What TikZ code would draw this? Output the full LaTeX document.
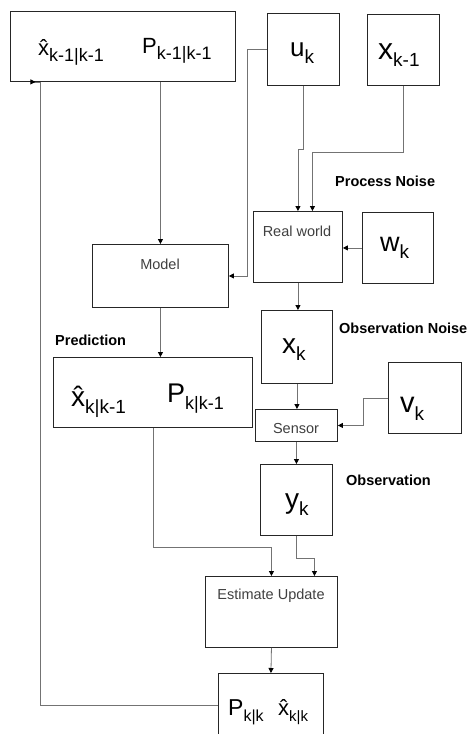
\documentclass[tikz,border=0pt]{standalone}
\usepackage{fontspec}
\setmainfont{Liberation Sans}
\usetikzlibrary{arrows.meta}
\newcommand\fs[1]{\fontsize{#1}{#1}\selectfont}
\newcommand\hatx{x^^^^0302}
\newcommand\sym[5]{{\fs{#1}#2\raisebox{-#5em}{\fs{#3}#4}}}
\begin{document}
\begin{tikzpicture}[x=1pt,y=-1pt,
  box/.style={draw=black!85, line width=0.9pt, inner sep=0pt, rectangle, anchor=north west},
  conn/.style={draw=black!55, line width=0.8pt, -{Triangle[length=5pt,width=5pt,color=black]}},
  sym/.style={inner sep=0pt, anchor=base west},
  lbl/.style={inner sep=0pt, text=black!75, font=\fs{14.5}},
  hdr/.style={inner sep=0pt, anchor=west, font=\fs{14.5}\bfseries}]
\clip (0,0) rectangle (470,734);
\fill[white] (0,0) rectangle (470,734);
% boxes
\node[box, minimum width=225pt, minimum height=70pt] (tl) at (10,11) {};
\node[box, minimum width=72pt, minimum height=72pt] (uk) at (267,13) {};
\node[box, minimum width=72pt, minimum height=71pt] (xkm) at (367,14) {};
\node[box, minimum width=89pt, minimum height=71pt] (rw) at (253,211) {};
\node[box, minimum width=71pt, minimum height=71pt] (wk) at (362,212) {};
\node[box, minimum width=136pt, minimum height=63pt] (model) at (92,244) {};
\node[box, minimum width=71pt, minimum height=73pt] (xk) at (261,310) {};
\node[box, minimum width=199pt, minimum height=70pt] (pred) at (53,357) {};
\node[box, minimum width=82pt, minimum height=32pt] (sensor) at (255,409) {};
\node[box, minimum width=73pt, minimum height=71pt] (vk) at (388,362) {};
\node[box, minimum width=72pt, minimum height=71pt] (yk) at (260,464) {};
\node[box, minimum width=132pt, minimum height=71pt] (eu) at (205,576) {};
\node[box, minimum width=105pt, minimum height=80pt] (pk) at (218,673) {};
% texts
\node[sym] (tlx) at (38,55) {\sym{22}{\hatx}{18}{k-1|k-1}{0.3}};
\node[sym] (tlp) at (142,53) {\sym{22}{P}{18}{k-1|k-1}{0.3}};
\node[sym] (ukt) at (290,56) {\sym{26}{u}{19}{k}{0.28}};
\node[sym] (xkmt) at (378,59) {\sym{30}{x}{19}{k-1}{0.25}};
\node[lbl] (rwt) at (297,231) {Real world};
\node[sym] (wkt) at (380,251) {\sym{27}{w}{19}{k}{0.28}};
\node[lbl] (modelt) at (160,264) {Model};
\node[hdr] (pn) at (335,181) {Process Noise};
\node[hdr] (on) at (339,328) {Observation Noise};
\node[hdr] (pr) at (55,340) {Prediction};
\node[sym] (xkt) at (282,353) {\sym{28}{x}{19}{k}{0.28}};
\node[sym] (predx) at (71,406) {\sym{28}{\hatx}{19}{k|k-1}{0.28}};
\node[sym] (predp) at (167,402) {\sym{27}{P}{18}{k|k-1}{0.28}};
\node[lbl] (sensort) at (296,429) {Sensor};
\node[sym] (vkt) at (400,412) {\sym{29}{v}{19}{k}{0.28}};
\node[hdr] (ob) at (346,480) {Observation};
\node[sym] (ykt) at (285,508) {\sym{28}{y}{19}{k}{0.28}};
\node[lbl] (eut) at (271,596) {Estimate Update};
\node[sym] (pkp) at (228,715) {\sym{23}{P}{16}{k|k}{0.28}};
\node[sym] (pkx) at (278,715) {\sym{22}{\hatx}{15}{k|k}{0.28}};
% connectors
\draw[conn] (model.north |- tl.south) -- (model.north);
\draw[conn] (uk.west) -- ++(-20,0) |- (model.east);
\draw[conn] (uk.south) -- ++(0,63) -| (rw.north);
\draw[conn] (xkm.south) -- ++(0,66) -| ([xshift=14.5pt]rw.north);
\draw[conn] (wk.west) -- (wk.west -| rw.east);
\draw[conn] (rw.south) -- (rw.south |- xk.north);
\draw[conn] (model.south) -- (model.south |- pred.north);
\draw[conn] (xk.south) -- (xk.south |- sensor.north);
\draw[conn] (vk.west) -- ++(-25,0) |- (sensor.east);
\draw[conn] (sensor.south) -- (sensor.south |- yk.north);
\draw[conn] (pred.south) -- ++(0,119) -| (eu.north);
\draw[conn] (yk.south) -- ++(0,22) -| ([xshift=43pt]eu.north);
\draw[conn] (eu.south) -- (pk.north);
\draw[conn, shorten >=5pt] ([yshift=8pt]pk.west) -- ++(-178,0) |- ([xshift=-82.5pt]tl.south);
\end{tikzpicture}
\end{document}
